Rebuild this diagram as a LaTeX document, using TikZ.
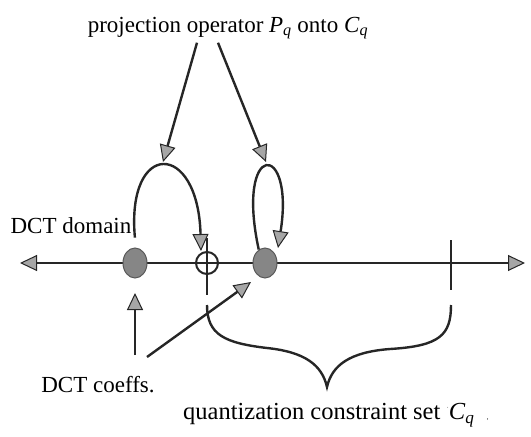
\documentclass[tikz,border=0pt]{standalone}
\usepackage{fontspec}
\setmainfont{Liberation Serif}
\usetikzlibrary{arrows.meta,shapes.geometric}

\begin{document}
\begin{tikzpicture}[x=1pt,y=-1pt,font=\fontsize{23}{27}\selectfont,
  line/.style={draw=black!85, line width=2.4pt},
  arr/.style={line, -{Triangle[length=17pt,width=16pt,fill=gray!70,line width=1pt]}},
  dot/.style={ellipse, fill=gray!95, draw=black!65, line width=1pt, minimum width=24pt, minimum height=30pt, inner sep=0pt},
  proj/.style={circle, draw=black!85, line width=2pt, minimum size=22pt, inner sep=0pt}
]
\useasboundingbox (0,0) rectangle (531,437);
% Axis position
\def\ya{263}

% Axis and tick marks
\coordinate (axL) at (20,\ya);
\coordinate (axR) at (525,\ya);
\draw[line, {Triangle[length=17pt,width=16pt,fill=gray!70,line width=1pt]}-{Triangle[length=17pt,width=16pt,fill=gray!70,line width=1pt]}] (axL) -- (axR);
\coordinate (t1a) at (207,238); \coordinate (t1b) at (207,295);
\coordinate (t2a) at (451,240); \coordinate (t2b) at (451,290);
\draw[line] (t1a) -- (t1b);
\draw[line] (t2a) -- (t2b);

% Points on the axis
\node[dot] (c1) at (135,\ya) {};
\node[proj] (p1) at (207,\ya) {};
\node[dot] (c2) at (265,\ya) {};

% Labels
\node (title) at (228,28) {projection operator \textit{P}\textsubscript{\textit{q}} onto \textit{C}\textsubscript{\textit{q}}};
\node (dom) at (71,226) {DCT domain};
\node (coef) at (98,385) {DCT coeffs.};
\node[anchor=west, inner sep=0pt, font=\fontsize{24.5}{28}\selectfont] (qset) at (183,415) {quantization constraint set \raisebox{0.9ex}{\scriptsize$\cdot$}\textit{C}\textsubscript{\textit{q}}\ \ {\scriptsize,}};

% Operator arrows
\coordinate (a1) at (163,162);
\coordinate (a2) at (266,162);
\draw[arr] ([xshift=-31]title.south) -- (a1);
\draw[arr] ([xshift=-10]title.south) -- (a2);

% Projection loops
\coordinate (e1) at (201,251);
\coordinate (e2) at (278,248);
\draw[arr] (dom.south east) .. controls (126,140) and (198,140) .. (e1);
\draw[arr] (c2.115) .. controls (235,140) and (295,140) .. (e2);

% Coefficient arrows
\coordinate (u1) at (135,355);
\coordinate (u2) at (147,357);
\coordinate (h1) at (135,293);
\coordinate (h2) at (251,282);
\draw[arr] (u1) -- (h1);
\draw[arr] (u2) -- (h2);

% Brace
\draw[line] (207,305) .. controls (207,335) and (225,343) .. (267,348)
  .. controls (305,352) and (322,365) .. (327,387)
  .. controls (332,365) and (350,352) .. (390,349)
  .. controls (440,346) and (451,335) .. (451,305);
\end{tikzpicture}
\end{document}
